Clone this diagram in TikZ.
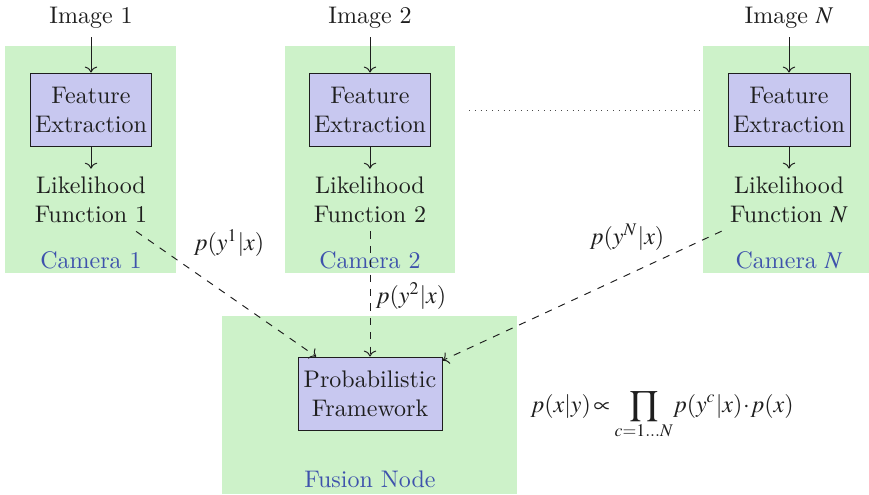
\documentclass[tikz,border=0pt]{standalone}
\usepackage{mathptmx}
\renewcommand{\rmdefault}{lmr}
\usetikzlibrary{arrows.meta}
\definecolor{camgreen}{RGB}{205,242,201}
\definecolor{boxlav}{RGB}{200,200,240}
\definecolor{labblue}{RGB}{62,82,172}
\definecolor{ink}{RGB}{30,30,30}
\tikzset{
  procbox/.style={draw=ink, fill=boxlav, align=center, text=ink,
    minimum width=50.8pt, minimum height=30.8pt, inner sep=0pt},
  plain/.style={align=center, text=ink},
  camlabel/.style={text=labblue},
  feed/.style={->, draw=ink},
  msg/.style={->, dashed, draw=ink},
}
\begin{document}
\begin{tikzpicture}[x=0.41667pt, y=-0.41667pt]
\useasboundingbox (0,0) rectangle (869,494);

% shaded regions for the cameras and the fusion node
\fill[camgreen] (5,46) rectangle (176,273);
\fill[camgreen] (285,46) rectangle (455,273);
\fill[camgreen] (703,46) rectangle (869,273);
\fill[camgreen] (222,316) rectangle (517,494);

% camera 1
\node[plain] (img1) at (91,18) {Image 1};
\node[procbox] (fe1) at (91,110) {Feature\\Extraction};
\node[plain] (lik1) at (91,200) {Likelihood\\Function 1};
\node[camlabel] (cl1) at (91,260) {Camera 1};

% camera 2
\node[plain] (img2) at (370,18) {Image 2};
\node[procbox] (fe2) at (370,110) {Feature\\Extraction};
\node[plain] (lik2) at (370,200) {Likelihood\\Function 2};
\node[camlabel] (cl2) at (370,260) {Camera 2};

% camera N
\node[plain] (imgN) at (789,18) {Image $N$};
\node[procbox] (feN) at (789,110) {Feature\\Extraction};
\node[plain] (likN) at (789,200) {Likelihood\\Function $N$};
\node[camlabel] (clN) at (789,260) {Camera $N$};

% fusion node
\node[procbox, minimum width=60pt] (prob) at (370,394) {Probabilistic\\Framework};
\node[camlabel] (fl) at (370,479) {Fusion Node};

% elided cameras
\coordinate (dotA) at (469,110);
\coordinate (dotB) at (705,110);
\draw[ink!80, dotted] (dotA) -- (dotB);

% processing chain inside each camera
\draw[feed] (img1) -- (fe1);
\draw[feed] (fe1) -- (lik1);
\draw[feed] (img2) -- (fe2);
\draw[feed] (fe2) -- (lik2);
\draw[feed] (imgN) -- (feN);
\draw[feed] (feN) -- (likN);

% likelihoods sent to the fusion node
\draw[msg] (lik1) -- (prob);
\draw[msg] (lik2) -- (prob);
\draw[msg] (likN) -- (prob);

\node[text=ink] (m1) at (229,243) {$p(y^1|x)$};
\node[text=ink] (m2) at (411,296) {$p(y^2|x)$};
\node[text=ink] (mN) at (627,237) {$p(y^N|x)$};

% posterior
\node[text=ink, anchor=base west, inner sep=0pt] (post) at (530,412)
  {$\displaystyle p(x|y)\mkern2mu{\propto}\mkern1mu \prod_{c=1\ldots N}\! p(y^c|x)\mathbin{\mkern-2mu\cdot\mkern-2mu} p(x)$};
\end{tikzpicture}
\end{document}
